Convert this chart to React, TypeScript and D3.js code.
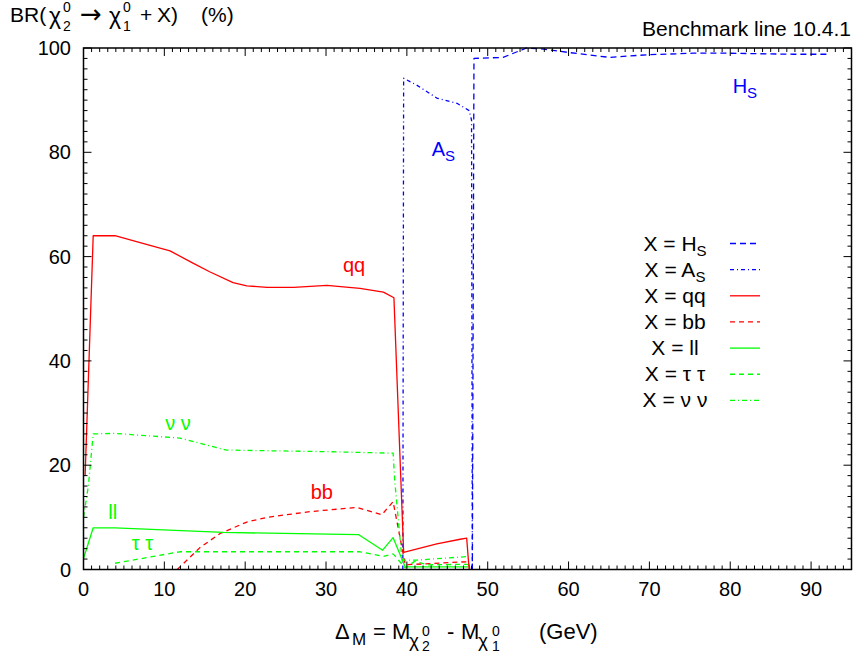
import React from "react";
import * as d3 from "d3";

const W = 854;
const H = 655;
const FONT = "'Liberation Sans', Arial, Helvetica, sans-serif";

// ---- data (x = Delta_M in GeV, y = BR in %) ----
const hsX = [48.1, 48.3, 51.9, 54.8, 56.9, 60.2, 65.1, 69.7, 75.4, 79.6, 87.8, 91.9];
const hsY = [0, 98, 98.2, 100, 99.8, 99.1, 98.2, 98.7, 99, 99, 98.8, 98.8];

const asX = [39.5, 39.6, 41.2, 43.7, 46.2, 47.7, 48.0, 48.1];
const asY = [0, 94.2, 92.9, 90.4, 89.4, 88, 86.2, 0];

const qqX = [0.2, 1.2, 3.9, 7, 10.7, 13.6, 15.6, 18.5, 20.2, 22.7, 26, 30.1, 34.2, 37.1, 38.4, 39.6, 43.7, 46.6, 47.4, 47.7];
const qqY = [18, 64, 64, 62.7, 61.1, 58.7, 57.1, 55, 54.4, 54.1, 54.1, 54.5, 53.9, 53.2, 52.1, 3.3, 4.9, 5.8, 6.0, 0];

const bbX = [11.6, 14.4, 16.9, 20.2, 22.7, 28, 33.8, 36.9, 38.3, 39.8, 47.6, 47.8];
const bbY = [0, 4.2, 6.9, 9.1, 10, 11.1, 11.9, 10.5, 13, 0.9, 1.5, 0];

const llX = [0, 1.2, 3.9, 17.3, 34, 37, 38.3, 39.8, 47.6];
const llY = [2.1, 8, 8, 7.1, 6.7, 3.7, 6.1, 0.5, 0.5];

const ttX = [3.9, 11.9, 34.2, 37.1, 38.3, 39.8, 41, 42.5, 47.6];
const ttY = [1.2, 3.4, 3.4, 2.5, 3, 0.3, 1.6, 0.9, 1.0];

const nnX = [0, 0.6, 1.2, 3.9, 11.9, 17.7, 30.1, 38.3, 38.5, 39.4, 41.2, 47.7];
const nnY = [10, 16, 26, 26.1, 25.2, 22.9, 22.6, 22.3, 17, 1.8, 1.8, 2.5];

const legendNames = ["H", "A", "qq", "bb", "ll", "τ τ", "ν ν"];
const legendSubs = ["S", "S", "", "", "", "", ""];

const xMajor = d3.range(0, 91, 10);
const xMinor = d3.range(0, 96, 1);
const yMajor = d3.range(0, 101, 20);
const yMinor = d3.range(0, 101, 2);

const BLUE = "#0000ff";
const RED = "#ff0000";
const GREEN = "#00ff00";

export default function App() {
  const L = 83.5, R = 851.5, T = 48, B = 569.5;
  const x = d3.scaleLinear().domain([0, 95]).range([L, R]);
  const y = d3.scaleLinear().domain([0, 100]).range([B, T]);

  const mk = (xs: number[], ys: number[]) =>
    d3.line<number>().x((_, i) => x(xs[i])).y((_, i) => y(ys[i]))(xs) || "";

  const series = [
    { xs: hsX, ys: hsY, color: BLUE, dash: "6,4" },
    { xs: asX, ys: asY, color: BLUE, dash: "4,3,1,3" },
    { xs: qqX, ys: qqY, color: RED, dash: "" },
    { xs: bbX, ys: bbY, color: RED, dash: "5,4" },
    { xs: llX, ys: llY, color: GREEN, dash: "" },
    { xs: ttX, ys: ttY, color: GREEN, dash: "5,4" },
    { xs: nnX, ys: nnY, color: GREEN, dash: "5,3,1,3" },
  ];

  const legY0 = 243.5;
  const legStep = 26.15;

  return (
    <svg width={W} height={H} style={{ position: "absolute", left: 0, top: 0, background: "#fff" }}
      fontFamily={FONT}>
      <rect x={0} y={0} width={W} height={H} fill="#fff" />

      {/* series */}
      {series.map((s, i) => (
        <path key={i} d={mk(s.xs, s.ys)} fill="none" stroke={s.color} strokeWidth={1.3}
          strokeDasharray={s.dash || undefined} strokeLinejoin="round" />
      ))}

      {/* ticks */}
      <g stroke="#000" strokeWidth={1}>
        {xMinor.map((v) => {
          const maj = v % 10 === 0;
          const len = maj ? 8 : 4;
          return (
            <g key={"xt" + v}>
              <line x1={x(v)} x2={x(v)} y1={B} y2={B - len} />
              <line x1={x(v)} x2={x(v)} y1={T} y2={T + len} />
            </g>
          );
        })}
        {yMinor.map((v) => {
          const maj = v % 20 === 0;
          const len = maj ? 8 : 4;
          return (
            <g key={"yt" + v}>
              <line x1={L} x2={L + len} y1={y(v)} y2={y(v)} />
              <line x1={R} x2={R - len} y1={y(v)} y2={y(v)} />
            </g>
          );
        })}
      </g>
      <rect x={L} y={T} width={R - L} height={B - T} fill="none" stroke="#000" strokeWidth={1.5} />

      {/* tick labels */}
      <g fontSize={20} fill="#000">
        {xMajor.map((v) => (
          <text key={"xl" + v} x={x(v)} y={596} textAnchor="middle">{v}</text>
        ))}
        {yMajor.map((v) => (
          <text key={"yl" + v} x={71} y={y(v) + 7} textAnchor="end">{v}</text>
        ))}
      </g>

      {/* y title */}
      <g fill="#000" fontSize={21}>
        <text x={10} y={22}>BR(</text>
        <text x={49} y={24} fontSize={23}>χ</text>
        <text x={63} y={12} fontSize={14}>0</text>
        <text x={63} y={31} fontSize={14}>2</text>
        <text x={80} y={23} fontSize={26} fontFamily="'DejaVu Sans', sans-serif">→</text>
        <text x={109} y={24} fontSize={23}>χ</text>
        <text x={123} y={12} fontSize={14}>0</text>
        <text x={123} y={31} fontSize={14}>1</text>
        <text x={140} y={22}>+</text>
        <text x={157} y={22}>X)</text>
        <text x={201} y={22}>(%)</text>
      </g>
      <text x={851} y={36} fontSize={21} fill="#000" textAnchor="end">Benchmark line 10.4.1</text>

      {/* x title */}
      <g fill="#000" fontSize={22}>
        <text x={335} y={639}>Δ</text>
        <text x={352} y={645} fontSize={17}>M</text>
        <text x={373} y={639}>=</text>
        <text x={392} y={639}>M</text>
        <text x={409} y={647} fontSize={19}>χ</text>
        <text x={422} y={636} fontSize={14}>0</text>
        <text x={422} y={651} fontSize={14}>2</text>
        <text x={447} y={639}>-</text>
        <text x={461} y={639}>M</text>
        <text x={478} y={647} fontSize={19}>χ</text>
        <text x={492} y={636} fontSize={14}>0</text>
        <text x={492} y={651} fontSize={14}>1</text>
        <text x={539} y={639}>(GeV)</text>
      </g>

      {/* inline curve labels */}
      <g fontSize={20}>
        <text x={x(32.1)} y={y(57)} fill={RED}>qq</text>
        <text x={x(28.1)} y={y(13.5)} fill={RED}>bb</text>
        <text x={x(3.07)} y={y(9.6)} fill={GREEN}>ll</text>
        <text x={x(5.96)} y={y(3.75)} fill={GREEN} style={{ whiteSpace: "pre" }}>τ τ</text>
        <text x={x(10.1)} y={y(26.75)} fill={GREEN} style={{ whiteSpace: "pre" }}>ν ν</text>
        <text x={x(43.07)} y={y(79.2)} fill={BLUE}>A<tspan fontSize={15} dy={5}>S</tspan></text>
        <text x={x(80.3)} y={y(91.3)} fill={BLUE}>H<tspan fontSize={15} dy={5}>S</tspan></text>
      </g>

      {/* legend */}
      <g fontSize={21} fill="#000">
        {series.map((s, i) => {
          const ly = legY0 + i * legStep;
          return (
            <g key={"lg" + i}>
              <text x={675} y={ly + 7} textAnchor="middle" style={{ whiteSpace: "pre" }}>
                {"X = " + legendNames[i]}
                {legendSubs[i] ? <tspan fontSize={15} dy={5}>{legendSubs[i]}</tspan> : null}
              </text>
              <line x1={730} x2={760} y1={ly} y2={ly} stroke={s.color} strokeWidth={1.3}
                strokeDasharray={s.dash || undefined} />
            </g>
          );
        })}
      </g>
    </svg>
  );
}
